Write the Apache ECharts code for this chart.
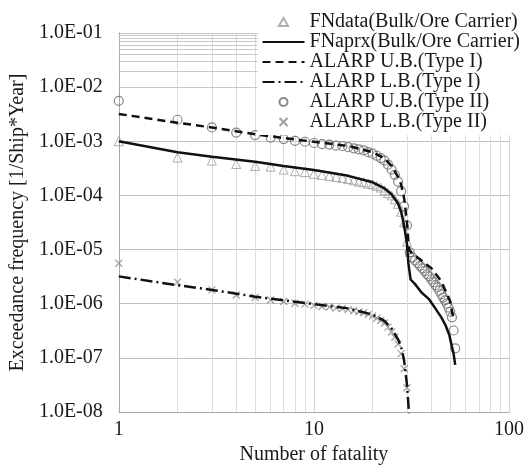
<!DOCTYPE html>
<html>
<head>
<meta charset="utf-8">
<script src="https://cdn.jsdelivr.net/npm/echarts@6/dist/echarts.min.js"></script>
<style>html,body{margin:0;padding:0;background:#fff;}#main{width:527px;height:470px;}</style>
</head>
<body>
<div id="main"></div>
<script>
// ---- data ----
const fatalities = [1,2,3,4,5,6,7,8,9,10,11,12,13,14,15,16,17,18,19,20,21,22,23,24,25,26,27,28,29,30,31,32,33,34,35,36,37,38,39,40,41,42,43,44,45,46,47,48,49,50,51,52,53];
// ALARP U.B. (Type II) circles, N = 1..53
const ubType2 = [5.6e-3,2.5e-3,1.8e-3,1.45e-3,1.3e-3,1.17e-3,1.1e-3,1.02e-3,9.8e-4,9.3e-4,8.9e-4,8.7e-4,8.3e-4,8.1e-4,7.8e-4,7.4e-4,7.1e-4,6.8e-4,6.3e-4,5.9e-4,5.4e-4,4.9e-4,4.4e-4,3.7e-4,3.0e-4,2.4e-4,1.8e-4,1.2e-4,6.3e-5,2.8e-5,8.9e-6,7.1e-6,6.3e-6,5.6e-6,5.0e-6,4.5e-6,4.0e-6,3.5e-6,3.2e-6,2.8e-6,2.5e-6,2.2e-6,2.0e-6,1.74e-6,1.5e-6,1.3e-6,1.15e-6,1.0e-6,8.5e-7,7.1e-7,5.6e-7,3.2e-7,1.5e-7];
// ALARP L.B. (Type II) crosses, N = 1..30
const lbType2 = [5.6e-6,2.5e-6,1.8e-6,1.45e-6,1.3e-6,1.17e-6,1.1e-6,1.02e-6,9.8e-7,9.3e-7,8.9e-7,8.7e-7,8.3e-7,8.1e-7,7.8e-7,7.4e-7,7.1e-7,6.8e-7,6.3e-7,5.9e-7,5.4e-7,4.9e-7,4.4e-7,3.7e-7,3.0e-7,2.4e-7,1.8e-7,1.2e-7,6.3e-8,2.8e-8];
// FNdata triangles, N = 1..31
const fnData = [1.0e-3,5.0e-4,4.4e-4,3.8e-4,3.5e-4,3.4e-4,3.0e-4,2.8e-4,2.7e-4,2.5e-4,2.4e-4,2.3e-4,2.2e-4,2.1e-4,2.0e-4,1.9e-4,1.8e-4,1.75e-4,1.65e-4,1.6e-4,1.5e-4,1.4e-4,1.25e-4,1.1e-4,1.0e-4,8.5e-5,7.0e-5,5.0e-5,3.2e-5,1.4e-5,9.0e-6];
// FNaprx solid curve
const aprxN = [1,2,3,5,7,10,15,20,23,25,27,28,29,30,30.5,31.3,33,35.7,39,42,45,47.3,49.5,50.8,52,53];
const aprxF = [1.0e-3,6.3e-4,5.2e-4,4.2e-4,3.5e-4,2.95e-4,2.3e-4,1.75e-4,1.35e-4,1.05e-4,7.1e-5,5.0e-5,2.8e-5,1.26e-5,5.6e-6,2.8e-6,2.3e-6,1.6e-6,1.2e-6,8.1e-7,5.6e-7,4.0e-7,2.6e-7,1.7e-7,1.2e-7,7.4e-8];
// ALARP U.B. (Type I) dashed curve
const ub1N = [1,2,3,5,7,10,15,20,23,25,27,28,29,30,30.7,32,35,40,45,50,52];
const ub1F = [3.2e-3,2.2e-3,1.8e-3,1.35e-3,1.15e-3,9.8e-4,8.2e-4,6.3e-4,4.8e-4,3.5e-4,2.2e-4,1.6e-4,8.9e-5,3.2e-5,1.0e-5,8.3e-6,6.6e-6,4.5e-6,2.6e-6,1.1e-6,5.0e-7];
// ALARP L.B. (Type I) dash-dot curve
const lb1N = [1,2,3,5,7,10,15,20,23,25,27,28,29,30,30.7,31];
const lb1F = [3.2e-6,2.2e-6,1.8e-6,1.35e-6,1.15e-6,9.8e-7,8.2e-7,6.3e-7,4.8e-7,3.5e-7,2.2e-7,1.6e-7,8.9e-8,3.2e-8,1.0e-8,5.0e-9];
// axis tick labels
const xTicks = ['1','10','100'];
const yTicks = ['1.0E-01','1.0E-02','1.0E-03','1.0E-04','1.0E-05','1.0E-06','1.0E-07','1.0E-08'];
const legendNames = ['FNdata(Bulk/Ore Carrier)','FNaprx(Bulk/Ore Carrier)','ALARP U.B.(Type I)','ALARP L.B.(Type I)','ALARP U.B.(Type II)','ALARP L.B.(Type II)'];

// ---- build ----
const FONT = "'Liberation Serif','Times New Roman',serif";
const pair = (xs, ys) => ys.map((y, i) => [xs[i], y]);

const vGrid = [], hGrid = [];
for (let d = 0; d < 2; d++) for (let k = 2; k <= 9; k++) vGrid.push({xAxis: k * Math.pow(10, d)});
for (let d = -8; d < -1; d++) for (let k = 2; k <= 9; k++) hGrid.push({yAxis: k * Math.pow(10, d)});

const hideSym = {opacity: 0};
const chart = echarts.init(document.getElementById('main'), null, {renderer: 'canvas'});
chart.setOption({
  animation: false,
  backgroundColor: '#fff',
  grid: {left: 117, right: 16, top: 33, bottom: 52, containLabel: false},
  legend: {
    data: [
      {name: legendNames[0], icon: 'path://M5,0L10,8.66L0,8.66Z'},
      {name: legendNames[1], itemStyle: hideSym},
      {name: legendNames[2], itemStyle: hideSym},
      {name: legendNames[3], itemStyle: hideSym},
      {name: legendNames[4], icon: 'circle'},
      {name: legendNames[5], icon: 'path://M0,0L10,10M10,0L0,10'}
    ],
    orient: 'vertical',
    right: 4, top: 9,
    itemWidth: 42, itemHeight: 8, itemGap: 0,
    backgroundColor: '#fff',
    z: 20,
    padding: [3, 3, 3, 4],
    textStyle: {fontFamily: FONT, fontSize: 20, color: '#1a1a1a', lineHeight: 20}
  },
  xAxis: {
    type: 'log', logBase: 10, min: 1, max: 100, splitNumber: 2,
    axisLine: {lineStyle: {color: '#a8a8a8'}},
    axisTick: {show: false},
    axisLabel: {color: '#1a1a1a', fontFamily: FONT, fontSize: 20, margin: 8,
      formatter: v => xTicks[Math.round(Math.log10(v))]},
    splitLine: {show: true, lineStyle: {color: '#d4d4d4', width: 1}},
    name: 'Number of fatality', nameLocation: 'middle', nameGap: 33,
    nameTextStyle: {color: '#1a1a1a', fontFamily: FONT, fontSize: 20}
  },
  yAxis: {
    type: 'log', logBase: 10, min: 1e-8, max: 1e-1, splitNumber: 7,
    axisLine: {show: true, lineStyle: {color: '#a8a8a8'}},
    axisTick: {show: false},
    axisLabel: {color: '#1a1a1a', fontFamily: FONT, fontSize: 20, margin: 16,
      formatter: v => yTicks[-1 - Math.round(Math.log10(v))]},
    splitLine: {show: true, lineStyle: {color: '#c0c0c0', width: 1}},
    name: 'Exceedance frequency [1/Ship*Year]', nameLocation: 'middle', nameGap: 76, nameRotate: 90,
    nameTextStyle: {color: '#1a1a1a', fontFamily: FONT, fontSize: 20}
  },
  series: [
    {
      name: '__grid', type: 'line', data: [[1, 1e-8]], symbol: 'none', silent: true, z: 1,
      lineStyle: {opacity: 0},
      markLine: {silent: true, z: 1, symbol: ['none', 'none'], label: {show: false}, animation: false,
        data: [
          ...vGrid.map(d => Object.assign({lineStyle: {color: '#dcdcdc', width: 1, type: 'solid'}}, d)),
          ...hGrid.map(d => Object.assign({lineStyle: {color: '#c8c8c8', width: 1, type: 'solid'}}, d))
        ]}
    },
    {
      name: legendNames[0], type: 'scatter', z: 3,
      data: pair(fatalities, fnData), symbol: 'triangle', symbolSize: 9,
      itemStyle: {color: 'rgba(255,255,255,0)', borderColor: '#9a9a9a', borderWidth: 1}
    },
    {
      name: legendNames[1], type: 'line', z: 4, data: pair(aprxN, aprxF), symbol: 'none', showSymbol: false,
      lineStyle: {color: '#111', width: 2.5, type: 'solid'}, itemStyle: {color: '#111'}
    },
    {
      name: legendNames[2], type: 'line', z: 4, data: pair(ub1N, ub1F), symbol: 'none', showSymbol: false,
      lineStyle: {color: '#111', width: 2.5, type: [8, 5]}, itemStyle: {color: '#111'}
    },
    {
      name: legendNames[3], type: 'line', z: 4, data: pair(lb1N, lb1F), symbol: 'none', showSymbol: false,
      lineStyle: {color: '#111', width: 2.5, type: [12, 4, 2, 4]}, itemStyle: {color: '#111'}
    },
    {
      name: legendNames[4], type: 'scatter', z: 3,
      data: pair(fatalities, ubType2), symbol: 'circle', symbolSize: 9,
      itemStyle: {color: 'rgba(255,255,255,0)', borderColor: '#6a6a6a', borderWidth: 1.2}
    },
    {
      name: legendNames[5], type: 'scatter', z: 3,
      data: pair(fatalities, lbType2), symbol: 'path://M0,0L10,10M10,0L0,10', symbolSize: 7,
      itemStyle: {color: 'rgba(255,255,255,0)', borderColor: '#8a8a8a', borderWidth: 1.2}
    }
  ]
});
</script>
</body>
</html>
